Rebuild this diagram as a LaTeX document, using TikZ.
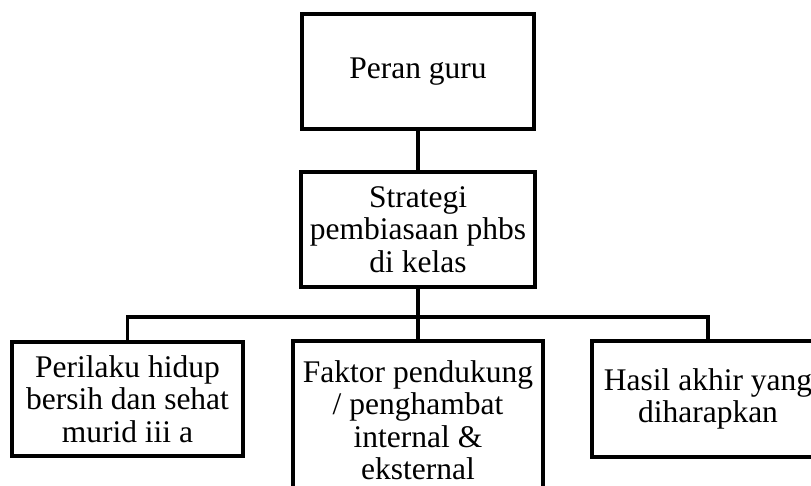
\documentclass[tikz,border=0pt]{standalone}
\usepackage{fontspec}
\setmainfont{Liberation Serif}
\begin{document}
\begin{tikzpicture}[x=1pt,y=-1pt,
  boxnode/.style={draw=black,line width=3.2pt,align=center,inner sep=0pt,
    font=\fontsize{31.5}{32.5}\selectfont},
  conn/.style={draw=black,line width=3.2pt}]
\clip (0,0) rectangle (811,486);
\node[boxnode,minimum width=232pt,minimum height=115pt] (top) at (418,71.5) {Peran guru};
\node[boxnode,minimum width=234pt,minimum height=115pt] (mid) at (418,229.5) {Strategi\\pembiasaan phbs\\di kelas};
\node[boxnode,minimum width=231pt,minimum height=114pt] (left) at (127.5,399) {Perilaku hidup\\bersih dan sehat\\murid iii a};
\node[boxnode,minimum width=250pt,minimum height=158pt] (bm) at (418,420) {Faktor pendukung\\/ penghambat\\internal \&\\eksternal};
\node[boxnode,minimum width=232pt,minimum height=116pt] (right) at (708,399) {Hasil akhir yang\\diharapkan};
\coordinate (bus) at (418,317);
\draw[conn] (top.south) -- (mid.north);
\draw[conn] (mid.south) -- (bus);
\draw[conn] (left.north) |- (bus) -| (right.north);
\draw[conn] (bus) -- (bm.north);
\end{tikzpicture}
\end{document}
